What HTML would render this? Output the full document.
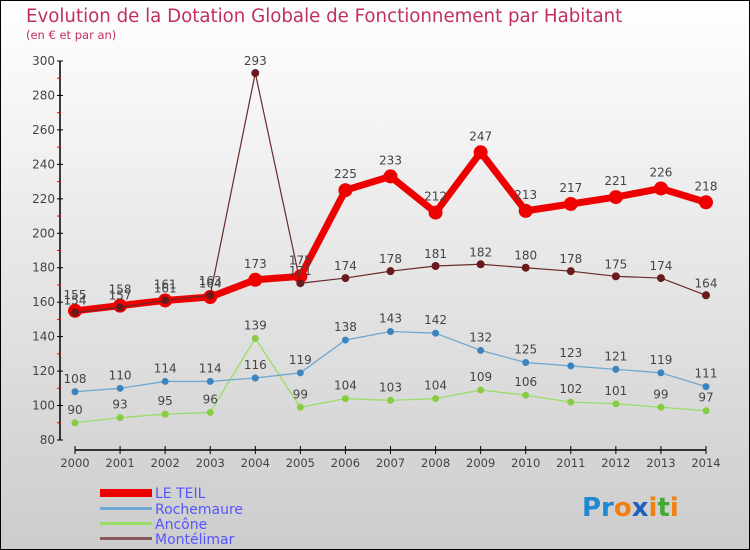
<!DOCTYPE html>
<html><head><meta charset="utf-8"><style>
body{margin:0}
#c{width:750px;height:550px;position:relative;overflow:hidden;font-family:"DejaVu Sans","Liberation Sans",sans-serif}
</style></head><body>
<div id="c">
<svg id="s" width="750" height="550" xmlns="http://www.w3.org/2000/svg">
<defs><linearGradient id="bg" x1="0" y1="0" x2="0" y2="1"><stop offset="0" stop-color="#ffffff"/><stop offset="1" stop-color="#cccccc"/></linearGradient></defs>
<rect x="0.5" y="0.5" width="749" height="549" fill="url(#bg)" stroke="#000"/>
<text x="26" y="22" font-size="18.2" fill="#c0305a">Evolution de la Dotation Globale de Fonctionnement par Habitant</text>
<text x="26" y="39" font-size="11.5" fill="#c0305a">(en € et par an)</text>
<g id="axes"></g><g id="series"></g>
<g font-size="14" fill="#5555ff">
<rect x="100" y="489" width="52" height="8" fill="#ee0000"/>
<text x="155" y="498">LE TEIL</text>
<rect x="100" y="507" width="52" height="3" fill="#6fa8d0"/>
<text x="155" y="514">Rochemaure</text>
<rect x="100" y="522" width="52" height="3" fill="#99dd66"/>
<text x="155" y="529">Ancône</text>
<rect x="100" y="537" width="52" height="3" fill="#8a5a5a"/>
<text x="155" y="544">Montélimar</text>
</g>
<g font-size="26" font-weight="bold" font-family="'DejaVu Sans',sans-serif">
<text x="582" y="516"><tspan fill="#1e88d0">Pr</tspan><tspan fill="#f08010">o</tspan><tspan fill="#1e60c0">x</tspan><tspan fill="#f08010">i</tspan><tspan fill="#44aa33">t</tspan><tspan fill="#f08010">i</tspan></text>
</g>
</svg>
</div>
<script>
const years=[2000,2001,2002,2003,2004,2005,2006,2007,2008,2009,2010,2011,2012,2013,2014];
const yTicks=[80,100,120,140,160,180,200,220,240,260,280,300];
const leTeil=[155,158,161,163,173,175,225,233,212,247,213,217,221,226,218];
const rochemaure=[108,110,114,114,116,119,138,143,142,132,125,123,121,119,111];
const ancone=[90,93,95,96,139,99,104,103,104,109,106,102,101,99,97];
const montelimar=[154,157,161,164,293,171,174,178,181,182,180,178,175,174,164];
const NS="http://www.w3.org/2000/svg";
function xs(i){return 75+i*(706-75)/(years.length-1);}
function ys(v){return 440-(v-80)*(440-61)/220;}
function mk(tag,attrs,parent){const e=document.createElementNS(NS,tag);for(const k in attrs)e.setAttribute(k,attrs[k]);parent.appendChild(e);return e;}
const ax=document.getElementById('axes');
let yl=mk('line',{x1:60,y1:ys(300),x2:60,y2:440,stroke:'#000','stroke-width':1.5},ax);


let xl=mk('line',{x1:75,y1:450,x2:706,y2:450,stroke:'#000','stroke-width':1.5},ax);


yTicks.forEach(v=>{
  mk('line',{x1:57,y1:ys(v),x2:63,y2:ys(v),stroke:'#000'},ax);
  if(v<300)mk('line',{x1:57,y1:ys(v+10),x2:61,y2:ys(v+10),stroke:'#e00'},ax);
  const t=mk('text',{x:55,y:ys(v)+4,'text-anchor':'end','font-size':12,fill:'#444'},ax);
  t.textContent=v;
  
  
});
years.forEach((y,i)=>{
  mk('line',{x1:xs(i),y1:446,x2:xs(i),y2:454,stroke:'#000'},ax);
  const t=mk('text',{x:xs(i),y:467,'text-anchor':'middle','font-size':11.5,fill:'#444'},ax);
  t.textContent=y;
  
  
});
const sg=document.getElementById('series');
function draw(name,vals,color,w,r,pc,labOff){
  const g=mk('g',{},sg);
  
  
  const p=mk('polyline',{points:vals.map((v,i)=>xs(i)+','+ys(v)).join(' '),fill:'none',stroke:color,'stroke-width':w,'stroke-linejoin':'round'},g);
  
  
  vals.forEach((v,i)=>{
    const c=mk('circle',{cx:xs(i),cy:ys(v),r:r,fill:pc},g);
    
    
    const t=mk('text',{x:xs(i),y:ys(v)-labOff,'text-anchor':'middle','font-size':12,fill:'#444'},g);
    t.textContent=v;
    
    
  });
}
draw('ancone',ancone,'#99dd66',1.3,3.5,'#88cc44',9);
draw('rochemaure',rochemaure,'#6fa8d0',1.3,3.5,'#3a85c0',9);
draw('le-teil',leTeil,'#ee0000',7,7,'#ee0000',12);
draw('montelimar',montelimar,'#6a2a2a',1.2,4,'#6a1a1a',8);
</script>
</body></html>
